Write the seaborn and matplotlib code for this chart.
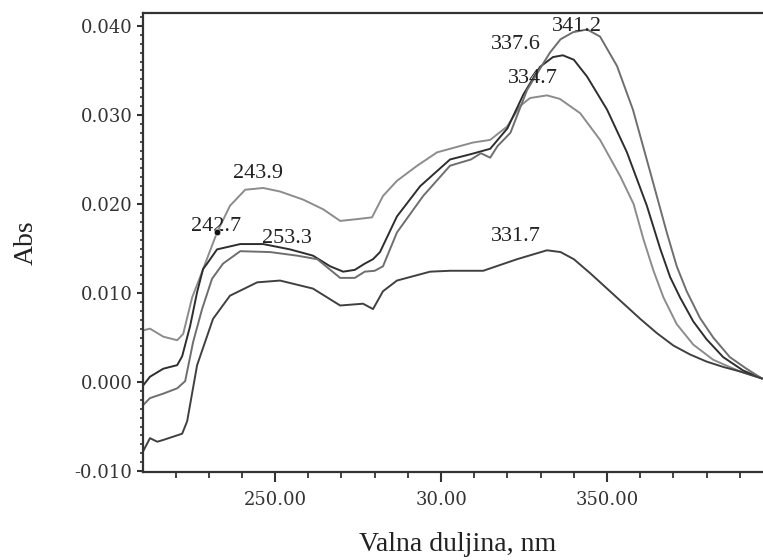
"""
UV absorption spectra (Abs vs wavelength) - four gray curves with peak labels.
"""

import pandas as pd
import seaborn as sns
import matplotlib.pyplot as plt
from matplotlib.ticker import MultipleLocator, FormatStrFormatter

# ---------------------------
# Data
# ---------------------------
# curve A: light gray, maximum 243.9 at left, 334.7 at right
wl_a = [210.2, 212.3, 216.3, 220.5, 222.3, 225.0, 227.4, 232.5, 236.4, 241.0,
        246.4, 251.5, 258.4, 264.5, 269.6, 274.7, 279.2, 282.5, 286.7, 292.8,
        298.8, 302.7, 309.6, 314.8, 319.9, 323.8, 326.8, 331.9, 335.8, 341.9,
        347.9, 354.0, 358.0, 361.0, 364.0, 367.0, 371.0, 376.0, 382.0, 390.0, 396.7]
abs_a = [0.0058, 0.0060, 0.0051, 0.0047, 0.0054, 0.0095, 0.0118, 0.0168, 0.0198, 0.0216,
         0.0218, 0.0214, 0.0205, 0.0194, 0.0181, 0.0183, 0.0185, 0.0209, 0.0226, 0.0243,
         0.0258, 0.0262, 0.0269, 0.0272, 0.0287, 0.0310, 0.0319, 0.0322, 0.0318, 0.0302,
         0.0272, 0.0231, 0.0200, 0.0160, 0.0125, 0.0095, 0.0065, 0.0042, 0.0025, 0.0012, 0.0004]

# curve B: dark, maxima 242.7 / 337.6
wl_b = [210.2, 212.3, 216.3, 220.5, 222.0, 224.4, 226.5, 228.3, 229.5, 232.5,
        239.5, 246.4, 254.5, 261.4, 266.6, 270.5, 274.0, 277.0, 279.5, 281.6,
        286.7, 293.7, 302.7, 309.0, 314.8, 320.0, 324.8, 329.8, 333.7, 336.7,
        340.0, 344.0, 350.0, 356.0, 362.0, 366.0, 369.0, 372.0, 376.0, 380.0,
        385.0, 391.0, 396.7]
abs_b = [-0.0004, 0.0006, 0.0015, 0.0019, 0.0029, 0.0063, 0.0101, 0.0127, 0.0133, 0.0149,
         0.0155, 0.0155, 0.0149, 0.0142, 0.0130, 0.0124, 0.0126, 0.0133, 0.0138, 0.0146,
         0.0186, 0.0220, 0.0250, 0.0256, 0.0262, 0.0285, 0.0323, 0.0354, 0.0365, 0.0367,
         0.0362, 0.0343, 0.0306, 0.0258, 0.0198, 0.0150, 0.0118, 0.0095, 0.0068, 0.0048,
         0.0028, 0.0013, 0.0004]

# curve C: medium gray, maxima 253.3 / 341.2
wl_c = [210.2, 212.3, 216.3, 220.5, 222.9, 225.3, 228.0, 231.0, 234.3, 239.5,
        248.5, 256.6, 262.7, 269.6, 274.0, 277.0, 280.0, 282.5, 286.7, 294.6,
        302.7, 309.0, 312.0, 314.8, 317.0, 320.9, 325.9, 330.8, 332.8, 336.0,
        339.8, 344.0, 347.9, 353.0, 357.8, 363.0, 368.0, 371.0, 374.0, 378.0,
        382.0, 387.0, 392.0, 396.7]
abs_c = [-0.0026, -0.0018, -0.0013, -0.0007, 0.0001, 0.0045, 0.0082, 0.0116, 0.0133, 0.0147,
         0.0146, 0.0142, 0.0138, 0.0117, 0.0117, 0.0124, 0.0125, 0.0130, 0.0168, 0.0209,
         0.0243, 0.0250, 0.0257, 0.0252, 0.0265, 0.0280, 0.0328, 0.0358, 0.0370, 0.0385,
         0.0393, 0.0396, 0.0388, 0.0355, 0.0306, 0.0236, 0.0168, 0.0130, 0.0102, 0.0072,
         0.0050, 0.0028, 0.0015, 0.0004]

# curve D: dark, lowest, maximum 331.7
wl_d = [210.2, 212.3, 214.5, 216.3, 222.0, 223.5, 226.5, 231.3, 236.4, 244.6,
        251.5, 261.4, 269.6, 276.5, 279.5, 282.5, 286.7, 296.7, 302.7, 312.7,
        322.9, 331.9, 336.0, 340.0, 345.0, 350.0, 355.0, 360.0, 365.0, 370.0,
        375.0, 380.0, 385.0, 390.0, 396.7]
abs_d = [-0.0078, -0.0063, -0.0067, -0.0065, -0.0058, -0.0044, 0.0019, 0.0071, 0.0097, 0.0112,
         0.0114, 0.0105, 0.0086, 0.0088, 0.0082, 0.0102, 0.0114, 0.0124, 0.0125, 0.0125,
         0.0138, 0.0148, 0.0146, 0.0138, 0.0122, 0.0105, 0.0088, 0.0071, 0.0055, 0.0041,
         0.0031, 0.0023, 0.0017, 0.0012, 0.0004]

curve_colors = ["#8c8c8c", "#2e2e2e", "#6e6e6e", "#404040"]

# peak labels: text, x, y
peak_labels = ["243.9", "242.7", "253.3", "337.6", "341.2", "334.7", "331.7"]
label_x = [244.9, 232.2, 253.6, 322.6, 340.9, 327.7, 322.6]
label_y = [0.0234, 0.0175, 0.0161, 0.0379, 0.0399, 0.0341, 0.0163]

dot_x = [232.5]
dot_y = [0.0168]

x_tick_pos = [250, 300, 350]
x_tick_labels = ["250.00", "30.00", "350.00"]

# ---------------------------
# Style
# ---------------------------
sns.set_style("white")
plt.rcParams["font.family"] = ["Liberation Serif", "DejaVu Serif"]
plt.rcParams["axes.unicode_minus"] = False

fig = plt.figure(figsize=(7.63, 5.6), dpi=100)
ax = fig.add_axes([143 / 763, 88 / 560, 630 / 763, 459 / 560])

# ---------------------------
# Curves
# ---------------------------
for wl, ab, col in zip([wl_a, wl_b, wl_c, wl_d], [abs_a, abs_b, abs_c, abs_d], curve_colors):
    df = pd.DataFrame({"wl": wl, "abs": ab})
    sns.lineplot(data=df, x="wl", y="abs", color=col, lw=1.4,
                 estimator=None, sort=False, ax=ax)

sns.scatterplot(x=dot_x, y=dot_y, color="#111111", s=22, ax=ax, zorder=5)

for txt, lx, ly in zip(peak_labels, label_x, label_y):
    ax.text(lx, ly, txt, ha="center", va="center", fontsize=16,
            family="Liberation Serif", color="#222222")

# ---------------------------
# Axes
# ---------------------------
ax.set_xlim(210.2, 400)
ax.set_ylim(-0.0101, 0.04145)

ax.set_xticks(x_tick_pos)
ax.set_xticklabels(x_tick_labels)
ax.xaxis.set_minor_locator(MultipleLocator(10))
ax.yaxis.set_major_locator(MultipleLocator(0.01))
ax.yaxis.set_major_formatter(FormatStrFormatter("%.3f"))
ax.yaxis.set_minor_locator(MultipleLocator(0.001))

for lab in ax.get_xticklabels() + ax.get_yticklabels():
    lab.set_family("DejaVu Serif")
    lab.set_fontsize(13)
    lab.set_color("#333333")

ax.tick_params(axis="x", which="major", direction="out", length=7, width=1.5,
               color="#333333", pad=7)
ax.tick_params(axis="x", which="minor", direction="out", length=4.5, width=1.3,
               color="#333333")
ax.tick_params(axis="y", which="major", direction="out", length=4.5, width=1.5,
               color="#333333", pad=3)
ax.tick_params(axis="y", which="minor", direction="out", length=2, width=1.2,
               color="#333333")
ax.tick_params(bottom=True, left=True, which="both")

for side in ["left", "bottom", "top", "right"]:
    ax.spines[side].set_color("#333333")
    ax.spines[side].set_linewidth(1.6)

ax.set_xlabel("Valna duljina, nm", fontsize=20, labelpad=16, color="#222222")
ax.set_ylabel("Abs", fontsize=20, labelpad=26, color="#222222")

plt.savefig("out.png", dpi=100)
print("saved out.png")
